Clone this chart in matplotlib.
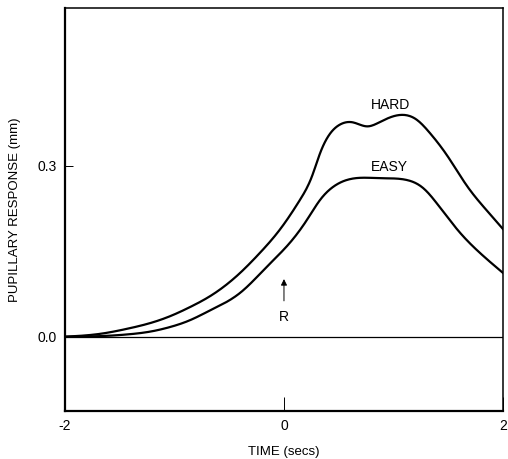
#!/usr/bin/env python3
import matplotlib
matplotlib.use("Agg")
import matplotlib.pyplot as plt
import numpy as np

# time (secs) and pupillary response (mm)
t_hard = [-2.0, -1.68, -1.43, -1.22, -1.04, -0.858, -0.676, -0.40,
          -0.22, -0.037, 0.146, 0.255, 0.33, 0.42, 0.51, 0.63, 0.76, 0.88,
          1.06, 1.21, 1.33, 1.49, 1.67, 1.85, 2.0]
hard = [0.0, 0.005, 0.014, 0.024, 0.036, 0.052, 0.071, 0.112,
        0.147, 0.188, 0.240, 0.281, 0.322, 0.356, 0.372, 0.376, 0.369, 0.377,
        0.389, 0.381, 0.358, 0.318, 0.265, 0.222, 0.189]

t_easy = [-2.0, -1.68, -1.43, -1.22, -1.04, -0.858, -0.676, -0.40,
          -0.155, 0.055, 0.21, 0.33, 0.45, 0.575, 0.88, 1.12, 1.27, 1.42,
          1.61, 1.79, 2.0]
easy = [0.0, 0.001, 0.004, 0.009, 0.017, 0.029, 0.046, 0.077,
        0.123, 0.165, 0.205, 0.240, 0.263, 0.275, 0.278, 0.275, 0.261, 0.228,
        0.182, 0.147, 0.112]

xticks = [-2, 0, 2]
yticks = [0.0, 0.3]


def smooth(x, y, n=500):
    """ Natural cubic spline through the read points """
    x = np.asarray(x, float)
    y = np.asarray(y, float)
    npts = len(x)
    h = np.diff(x)
    A = np.zeros((npts, npts))
    b = np.zeros(npts)
    A[0, 0] = 1.0
    A[-1, -1] = 1.0
    for i in range(1, npts - 1):
        A[i, i - 1] = h[i - 1]
        A[i, i] = 2 * (h[i - 1] + h[i])
        A[i, i + 1] = h[i]
        b[i] = 6 * ((y[i + 1] - y[i]) / h[i] - (y[i] - y[i - 1]) / h[i - 1])
    M = np.linalg.solve(A, b)
    xs = np.linspace(x[0], x[-1], n)
    idx = np.clip(np.searchsorted(x, xs) - 1, 0, npts - 2)
    hi = h[idx]
    a = x[idx + 1] - xs
    c = xs - x[idx]
    ys = (M[idx] * a**3 + M[idx + 1] * c**3) / (6 * hi) \
        + (y[idx] / hi - M[idx] * hi / 6) * a \
        + (y[idx + 1] / hi - M[idx + 1] * hi / 6) * c
    return xs, ys


plt.rcParams["font.family"] = ["Liberation Sans", "DejaVu Sans"]

fig = plt.figure(figsize=(5.08, 4.59), dpi=100)
ax = fig.add_axes([0.128, 0.105, 0.862, 0.878])

ax.axhline(0, color="black", lw=0.9)
ax.plot(*smooth(t_hard, hard), color="black", lw=1.6)
ax.plot(*smooth(t_easy, easy), color="black", lw=1.6)

ax.text(0.97, 0.407, "HARD", ha="center", va="center", fontsize=10)
ax.text(0.96, 0.298, "EASY", ha="center", va="center", fontsize=10)
ax.annotate("", xy=(0, 0.106), xytext=(0, 0.058),
            arrowprops=dict(arrowstyle="-|>", color="black", lw=0.7,
                            mutation_scale=9))
ax.text(0, 0.035, "R", ha="center", va="center", fontsize=10)

ax.set_xlim(-2, 2)
ax.set_ylim(-0.13, 0.577)
ax.set_xticks(xticks)
ax.set_xticklabels([str(v) for v in xticks])
ax.set_yticks(yticks)
ax.set_yticklabels(["%.1f" % v for v in yticks])
ax.tick_params(axis="x", direction="in", length=10, width=0.7, labelsize=10, pad=6)
ax.tick_params(axis="y", direction="in", length=6, width=0.7, labelsize=10, pad=6)
for side in ["left", "bottom"]:
    ax.spines[side].set_linewidth(1.6)
for side in ["top", "right"]:
    ax.spines[side].set_linewidth(1.1)

ax.set_xlabel("TIME (secs)", fontsize=9.5, labelpad=9)
ax.set_ylabel("PUPILLARY RESPONSE (mm)", fontsize=9.5, labelpad=12)

plt.savefig("out.png", dpi=100)
